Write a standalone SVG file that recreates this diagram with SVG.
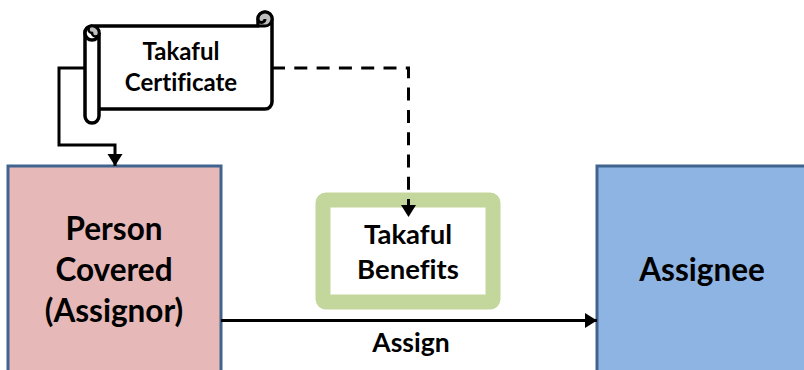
<svg xmlns="http://www.w3.org/2000/svg" width="804" height="370" viewBox="0 0 804 370">
<defs>
<marker id="arrow" markerUnits="userSpaceOnUse" markerWidth="14" markerHeight="16" refX="12" refY="7.500" orient="auto"><path d="M0 0L12 7.500L0 15Z" fill="#000"/></marker>
</defs>
<style>
text{font-family:Lato,"Liberation Sans",sans-serif;font-weight:700;fill:#000;text-anchor:middle;font-variant-ligatures:none}
.t{font-size:24px}.m{font-size:27.500px}.a{font-size:26.500px}.b{font-size:31.500px}
.c{fill:none;stroke:#000;stroke-width:3}
.s{fill:#fff;stroke:#000;stroke-width:3.500;stroke-linejoin:round}
.n{stroke:#41648f;stroke-width:3}
</style>
<rect width="804" height="370" fill="#fff"/>
<g id="person">
<rect class="n" x="8" y="166" width="213" height="216" fill="#e6b8b7"/>
<text class="b" x="114" y="240">Person</text>
<text class="b" x="114" y="281">Covered</text>
<text class="b" x="114" y="322">(Assignor)</text>
</g>
<g id="benefits">
<rect x="323" y="200" width="170" height="102" rx="3" fill="#fff" stroke="#c3d69b" stroke-width="15" stroke-linejoin="round"/>
<text class="m" x="408" y="244">Takaful</text>
<text class="m" x="408" y="279">Benefits</text>
</g>
<g id="assignee">
<rect class="n" x="597" y="166" width="213" height="216" fill="#8eb4e3"/>
<text class="b" x="702" y="281">Assignee</text>
</g>
<g id="connectors">
<path class="c" d="M86 68H59V145H115V166" marker-end="url(#arrow)"/>
<path class="c" d="M272 68H408.500V217" stroke-dasharray="13 9.300" marker-end="url(#arrow)"/>
<path class="c" d="M221 320.500H597" marker-end="url(#arrow)"/>
</g>
<g id="certificate">
<path class="s" d="M92 26H258V19A7 7 0 0 1 272 19V102A7 7 0 0 1 265 109H99V33A7 7 0 0 0 85 33V116A7 7 0 0 0 99 116V109"/>
<path class="s" d="M92 26A7 7 0 0 0 85 33A7 7 0 0 0 99 33"/>
<path fill="#bfbfbf" stroke="#000" stroke-width="3" d="M258 26H265A7 7 0 0 0 272 19A7 7 0 0 0 258 19A3.500 3.500 0 0 0 265 19"/>
<path fill="#bfbfbf" stroke="#000" stroke-width="2.500" d="M92 26A7 7 0 0 1 99 33A3.500 3.500 0 0 1 92 33A3.500 3.500 0 0 1 92 26Z"/>
<text class="t" x="181" y="60">Takaful</text>
<text class="t" x="181" y="91">Certificate</text>
</g>
<g id="assign-label">
<text class="a" x="411" y="352">Assign</text>
</g>
</svg>
